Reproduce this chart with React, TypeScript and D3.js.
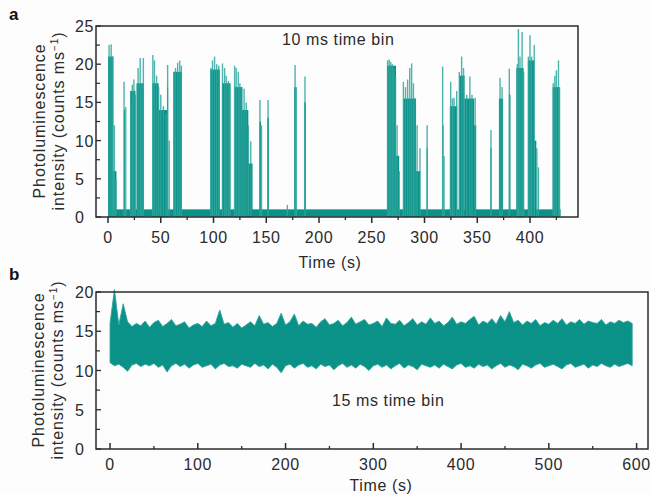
import React from 'react';
import * as d3 from 'd3';

// panel a: blinking trace, 10 ms bins
const blinkSpan: [number, number] = [0, 429];
const blinkBaseline: [number, number] = [0.05, 1.0];
// [start s, end s, dense level]
const blinkBursts: [number, number, number][] = [
  [0, 5, 21], [5, 8, 6], [15, 16, 14], [21, 26, 16.5], [27, 34, 17.5],
  [42, 48, 17.5], [48, 56, 14], [56, 57, 17], [62, 70, 19],
  [97, 106, 19.3], [108, 116, 17.5], [120, 127, 17], [127, 133, 14], [133, 137, 7],
  [143.5, 145, 12.5], [151, 152.5, 13], [176.5, 178, 17], [186, 187.5, 15],
  [264.5, 273, 19.8], [273, 276, 8], [280, 292, 15.5], [292, 296, 6], [302, 303, 9],
  [317, 318, 12], [324, 331, 14.5], [333, 338, 18.5], [338, 347, 15.5], [347, 349, 12],
  [362.5, 363.5, 9], [370.5, 374.5, 15.5], [380, 381.5, 16], [387, 394, 19.5],
  [398, 404, 20.5], [404, 406, 10], [421.5, 428, 17],
];
// [time s, peak counts/ms]
const blinkSpikes: [number, number][] = [
  [1, 22.5], [3, 22.6], [4.5, 21], [6, 12], [7.5, 5],
  [15.2, 17.7], [16.8, 14.4],
  [21.5, 15], [23, 17.3], [24.5, 18], [26, 16],
  [28.5, 19.5], [30.5, 20.8], [32, 17.5], [33.5, 20.8],
  [42.5, 21.2], [44, 20.5], [46, 18.5], [48, 17], [50, 16], [52.5, 14.5], [55, 13.5],
  [56.5, 19.9], [58, 10],
  [62.5, 19], [64, 19.5], [66, 20.2], [68, 20.5], [69.5, 19.8],
  [97.5, 19.5], [99, 20.5], [101, 21], [103, 20], [105, 19.8],
  [108.5, 20.1], [110.5, 19.5], [112, 18.5], [114, 17.8], [115.5, 17.5],
  [120, 19.8], [121.5, 19.5], [123.5, 19], [125, 17.5], [127, 17], [129, 16.8],
  [131, 15], [133, 12], [135.3, 9.9],
  [144, 15.3], [145.5, 12], [151.7, 15.3], [170, 1.6],
  [177.3, 19.9], [178.5, 17], [186.7, 18.4],
  [265, 20.5], [266.5, 20.6], [268, 20.3], [269.5, 20], [271, 19.5], [272.5, 18.5],
  [274, 12], [276, 6],
  [280, 17.7], [282, 17], [284, 18], [286, 19.5], [287.8, 20.1], [289.5, 17.5],
  [291, 15.5], [293, 12], [295.7, 9],
  [302.5, 12], [317.2, 19.7], [318.5, 8],
  [324.8, 17.7], [326.5, 15.5], [328, 15.6], [330.5, 16.5], [333, 19], [335.2, 21],
  [337, 19.5], [340, 16], [343, 18.4], [345, 16], [348, 15.6],
  [363, 11.4], [371.6, 18.2], [373.5, 17], [380.4, 19.4],
  [388, 20], [389, 24.6], [390.5, 21], [392.5, 24.2], [394, 19],
  [398.5, 21], [400, 23.8], [401.5, 21], [404, 22.5], [406.5, 9], [408, 6.5],
  [422, 17.5], [423.5, 18.5], [425, 19.2], [427, 20.5], [428, 17],
];

// panel b: non-blinking trace, 15 ms bins, envelope read every 5 s
const steadyStep = 5;
const steadyUpper = [
  16.0, 20.3, 15.8, 18.5, 16.2, 15.6, 16.0, 15.7, 16.3, 15.5,
  16.1, 16.4, 15.6, 16.0, 16.5, 15.7, 15.9, 16.2, 15.4, 15.8,
  16.0, 15.6, 16.3, 15.7, 16.0, 17.7, 15.9, 16.1, 15.5, 16.0,
  15.4, 15.8, 16.2, 15.7, 17.0, 15.9, 16.1, 15.6, 16.0, 17.3,
  15.8, 16.2, 17.2, 15.7, 16.3, 15.9, 16.0, 15.5, 16.2, 16.6,
  15.8, 16.0, 16.4, 15.7, 16.1, 16.8, 15.9, 16.2, 16.5, 15.8,
  16.0, 16.3, 15.6, 16.7, 16.0, 15.9, 16.4, 15.7, 16.1, 16.6,
  15.8, 16.2, 15.9, 16.7, 16.0, 16.3, 15.7, 16.1, 16.8, 15.9,
  16.2, 16.0, 16.5, 16.9, 15.8, 16.3, 16.0, 16.6, 15.9, 17.0,
  16.2, 17.5, 16.1, 16.4, 15.8, 16.3, 16.0, 16.5, 15.7, 16.1,
  15.9, 16.4, 16.0, 16.6, 15.8, 16.2, 16.0, 16.5, 15.9, 16.3,
  16.1, 16.0, 16.5, 15.8, 16.2, 16.0, 16.4, 16.1, 16.3, 16.0,
];
const steadyLower = [
  11.0, 10.6, 10.8, 10.4, 9.9, 10.7, 10.9, 10.5, 10.8, 10.6,
  10.9, 10.4, 10.7, 9.8, 10.6, 10.9, 10.5, 10.8, 10.3, 10.7,
  10.9, 10.4, 10.6, 10.8, 10.2, 10.7, 10.9, 10.5, 10.6, 10.3,
  10.8, 10.6, 10.4, 10.9, 10.5, 10.7, 10.2, 10.8, 10.4, 9.7,
  10.6, 10.8, 10.3, 10.7, 10.9, 10.4, 10.6, 10.2, 10.8, 10.5,
  10.7, 10.1, 10.6, 10.9, 10.4, 10.7, 10.3, 10.8, 10.5, 10.0,
  10.6, 10.8, 10.4, 10.7, 10.2, 10.6, 10.9, 10.3, 10.7, 10.5,
  10.1, 10.8, 10.6, 10.4, 10.7, 10.3, 10.8, 10.5, 10.2, 10.7,
  10.9, 10.4, 10.6, 10.3, 10.8, 10.5, 10.7, 10.2, 10.6, 10.9,
  10.4, 10.7, 10.5, 10.1, 10.8, 10.6, 10.3, 10.7, 10.9, 10.4,
  10.6, 10.8, 10.5, 10.2, 10.7, 10.9, 10.4, 10.6, 10.8, 10.3,
  10.7, 10.5, 10.9, 10.6, 10.4, 10.8, 10.5, 10.7, 10.9, 10.6,
];

const ticksA = { x: [0, 50, 100, 150, 200, 250, 300, 350, 400], y: [0, 5, 10, 15, 20, 25] };
const ticksB = { x: [0, 100, 200, 300, 400, 500, 600], y: [0, 5, 10, 15, 20] };

const FONT = 'Liberation Sans, Arial, Helvetica, sans-serif';
const FS = 16;
const LS = 0.6;
const TEAL = '#0a9188';
const TEAL_LIGHT = '#2ea69d';
const INK = '#2b2b2b';

function YLabel({ cx, cy }: { cx: number; cy: number }) {
  return (
    <g fontFamily={FONT} fontSize={FS} fill={INK} textAnchor="middle" letterSpacing={0.9}>
      <text transform={`translate(${cx},${cy}) rotate(-90)`}>Photoluminescence</text>
      <text transform={`translate(${cx + 19},${cy}) rotate(-90)`}>
        intensity (counts ms<tspan fontSize={10} dy={-6}>−1</tspan><tspan dy={6}>)</tspan>
      </text>
    </g>
  );
}

function Axes({ x, y, xt, yt, xMinor, yMinor, inward, labelX }: any) {
  const [x0, x1] = x.range();
  const [y0, y1] = y.range();
  const dir = inward ? -1 : 1;
  return (
    <g>
      <rect x={x0} y={y1} width={x1 - x0} height={y0 - y1} fill="none" stroke={INK} strokeWidth={1.5} />
      {xt.map((t: number) => (
        <g key={'x' + t}>
          <line x1={x(t)} x2={x(t)} y1={y0} y2={y0 + dir * 6} stroke={INK} strokeWidth={1.5} />
          <text x={x(t)} y={y0 + labelX} textAnchor="middle" fontFamily={FONT} fontSize={FS}
            letterSpacing={LS} fill={INK}>{t}</text>
        </g>
      ))}
      {xMinor.map((t: number) => (
        <line key={'xm' + t} x1={x(t)} x2={x(t)} y1={y0} y2={y0 + dir * 3} stroke={INK} strokeWidth={1.3} />
      ))}
      {yt.map((v: number) => (
        <g key={'y' + v}>
          <line x1={x0} x2={x0 + 5} y1={y(v)} y2={y(v)} stroke={INK} strokeWidth={1.3} />
          <text x={x0 - 21} y={y(v) + 6} fontFamily={FONT} fontSize={FS} letterSpacing={LS} fill={INK}>{v}</text>
        </g>
      ))}
      {yMinor.map((v: number) => (
        <line key={'ym' + v} x1={x0} x2={x0 + 4} y1={y(v)} y2={y(v)} stroke={INK} strokeWidth={1.2} />
      ))}
    </g>
  );
}

export default function App() {
  const xa = d3.scaleLinear().domain([-11.4, 445.5]).range([96, 578]);
  const ya = d3.scaleLinear().domain([0, 25]).range([217, 26]);
  const xb = d3.scaleLinear().domain([-16, 613]).range([96, 648]);
  const yb = d3.scaleLinear().domain([0, 20]).range([449, 292]);

  const steadyArea = d3.area<number>()
    .x((_, i) => xb(i * steadyStep))
    .y0((_, i) => yb(steadyLower[i]))
    .y1((d) => yb(d));

  return (
    <svg width={651} height={494} style={{ position: 'absolute', left: 0, top: 0, background: '#fdfdfd' }}>
      {/* panel a */}
      <text x={9} y={20} fontFamily={FONT} fontWeight="bold" fontSize={17} fill="#111">a</text>
      <rect x={xa(blinkSpan[0])} y={ya(blinkBaseline[1])} width={xa(blinkSpan[1]) - xa(blinkSpan[0])}
        height={ya(blinkBaseline[0]) - ya(blinkBaseline[1])} fill={TEAL} />
      {blinkBursts.map(([s, e, v], i) => (
        <rect key={'b' + i} x={xa(s)} y={ya(v)} width={xa(e) - xa(s)} height={ya(0) - ya(v)} fill={TEAL} />
      ))}
      {blinkSpikes.map(([t, v], i) => (
        <line key={'s' + i} x1={xa(t)} x2={xa(t)} y1={ya(0)} y2={ya(v)} stroke={TEAL_LIGHT}
          strokeOpacity={0.85} strokeWidth={1.4} />
      ))}
      <text x={282} y={45} fontFamily={FONT} fontSize={FS} letterSpacing={LS} fill={INK}>10 ms time bin</text>
      <Axes x={xa} y={ya} xt={ticksA.x} yt={ticksA.y}
        xMinor={[25, 75, 125, 175, 225, 275, 325, 375, 425]}
        yMinor={[2.5, 7.5, 12.5, 17.5, 22.5]} inward={false} labelX={26} />
      <YLabel cx={45} cy={121} />
      <text x={330} y={268} textAnchor="middle" fontFamily={FONT} fontSize={FS} letterSpacing={LS} fill={INK}>Time (s)</text>

      {/* panel b */}
      <text x={9} y={280} fontFamily={FONT} fontWeight="bold" fontSize={17} fill="#111">b</text>
      <path d={steadyArea(steadyUpper) || ''} fill={TEAL} stroke={TEAL_LIGHT} strokeWidth={0.9} />
      <text x={332} y={406} fontFamily={FONT} fontSize={FS} letterSpacing={LS} fill={INK}>15 ms time bin</text>
      <Axes x={xb} y={yb} xt={ticksB.x} yt={ticksB.y}
        xMinor={[50, 150, 250, 350, 450, 550]}
        yMinor={[2.5, 7.5, 12.5, 17.5]} inward={true} labelX={21} />
      <YLabel cx={44} cy={370} />
      <text x={381} y={491} textAnchor="middle" fontFamily={FONT} fontSize={FS} letterSpacing={LS} fill={INK}>Time (s)</text>
    </svg>
  );
}
